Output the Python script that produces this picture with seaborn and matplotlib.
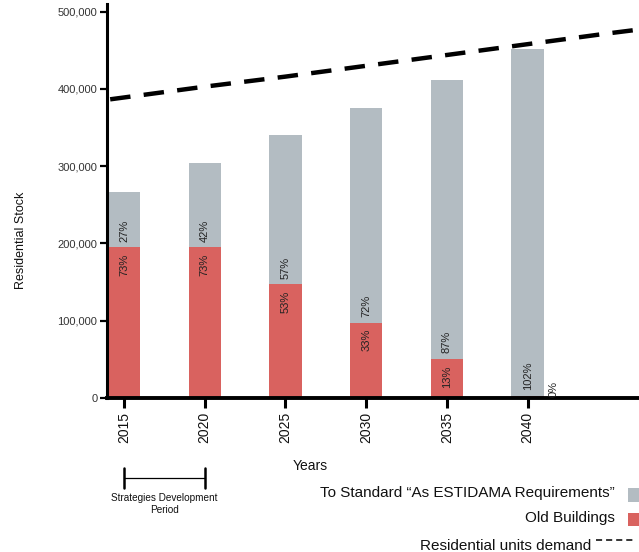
import matplotlib
matplotlib.use("Agg")
import matplotlib.pyplot as plt
from matplotlib.patches import Rectangle
from matplotlib.lines import Line2D
from matplotlib.ticker import FuncFormatter
import seaborn as sns
import pandas as pd

# ---- data ----
years = [2015, 2020, 2025, 2030, 2035, 2040]
total_stock = [267000, 304000, 340000, 376000, 412000, 452000]
old_buildings = [195000, 195000, 147000, 97500, 50500, 3000]
standard_pct = ["27%", "42%", "57%", "72%", "87%", "102%"]
old_pct = ["73%", "73%", "53%", "33%", "13%", "0%"]
demand_years = [2010, 2015, 2020, 2025, 2030, 2035, 2040, 2045, 2050]
demand_units = [375000, 389000, 403000, 416000, 430000, 444000, 458000, 472000, 485000]
yticks = [0, 100000, 200000, 300000, 400000, 500000]

GRAY = "#B3BCC2"
RED = "#D9625F"

sns.set_theme(style="white")
plt.rcParams["font.family"] = ["Liberation Sans", "DejaVu Sans"]

fig = plt.figure(figsize=(6.39, 5.52), dpi=100)
ax = fig.add_axes([107 / 639, 154 / 552, 1 - 107 / 639, (398 - 4) / 552])

df = pd.DataFrame({"year": years, "total": total_stock, "old": old_buildings})
sns.barplot(data=df, x="year", y="total", native_scale=True, width=0.4,
            color=GRAY, saturation=1, ax=ax, linewidth=0)
sns.barplot(data=df, x="year", y="old", native_scale=True, width=0.4,
            color=RED, saturation=1, ax=ax, linewidth=0)

dd = pd.DataFrame({"year": demand_years, "demand": demand_units})
sns.lineplot(data=dd, x="year", y="demand", color="black", linewidth=3.2, ax=ax)
ax.lines[-1].set_dashes((4.6, 3.0))

ax.set_xlim(2013.95, 2046.9)
ax.set_ylim(0, 510000)
ax.set_xticks(years)
ax.set_xticklabels([str(y) for y in years], rotation=90, fontsize=10, color="#111111")
ax.set_yticks(yticks)
ax.yaxis.set_major_formatter(FuncFormatter(lambda v, p: f"{int(v):,}"))
ax.tick_params(axis="y", labelsize=8, labelcolor="#333333", length=5, width=1.6,
               direction="out", left=True, color="black", pad=2)
ax.tick_params(axis="x", length=7, width=2.2, direction="out", bottom=True,
               color="black", pad=3)

for s in ["top", "right"]:
    ax.spines[s].set_visible(False)
ax.spines["left"].set_linewidth(2.2)
ax.spines["bottom"].set_linewidth(2.8)
ax.spines["left"].set_color("black")
ax.spines["bottom"].set_color("black")

ax.set_ylabel("Residential Stock", fontsize=9, color="#111111")
ax.yaxis.set_label_coords(-0.150, 0.40)
ax.set_xlabel("Years", fontsize=10, color="#111111")
ax.xaxis.set_label_coords(0.382, -0.155)

# percentage labels
for yr, tot, old, sp, op in zip(years, total_stock, old_buildings, standard_pct, old_pct):
    ax.annotate(sp, (yr, old), xytext=(0, 4), textcoords="offset points",
                rotation=90, ha="center", va="bottom", fontsize=8, color="#222222")
    if old > 20000:
        ax.annotate(op, (yr, old), xytext=(0, -4.5), textcoords="offset points",
                    rotation=90, ha="center", va="top", fontsize=8, color="#222222")
    else:
        ax.annotate(op, (yr + 1.6, 0), xytext=(0, 1), textcoords="offset points",
                    rotation=90, ha="center", va="bottom", fontsize=8, color="#222222")

# strategies development bracket
tr = ax.get_xaxis_transform()
ax.plot([years[0], years[1]], [-0.203, -0.203], transform=tr, color="black",
        lw=0.9, clip_on=False)
for xv in (years[0], years[1]):
    ax.plot([xv, xv], [-0.178, -0.229], transform=tr, color="black", lw=1.8,
            clip_on=False)
ax.text((years[0] + years[1]) / 2, -0.241, "Strategies Development\nPeriod",
        transform=tr, ha="center", va="top", fontsize=7.2, color="#111111",
        linespacing=1.2)

# legend (manual)
def fy(py):
    return 1 - py / 552

fig.text(615 / 639, fy(493), "To Standard \u201cAs ESTIDAMA Requirements\u201d",
         ha="right", va="center", fontsize=11, color="#111111")
fig.text(615 / 639, fy(518), "Old Buildings", ha="right", va="center",
         fontsize=11, color="#111111")
fig.text(591 / 639, fy(550), "Residential units demand", ha="right", va="baseline",
         fontsize=11, color="#111111")
fig.add_artist(Rectangle((628 / 639, fy(502)), 0.03, 14 / 552, transform=fig.transFigure,
                         color=GRAY, lw=0))
fig.add_artist(Rectangle((628 / 639, fy(526)), 0.03, 13 / 552, transform=fig.transFigure,
                         color=RED, lw=0))
fig.add_artist(Line2D([596 / 639, 634 / 639], [fy(540), fy(540)], transform=fig.transFigure,
                      color="black", lw=1.1, dashes=(4, 2.6)))

fig.savefig("out.png", dpi=100)
